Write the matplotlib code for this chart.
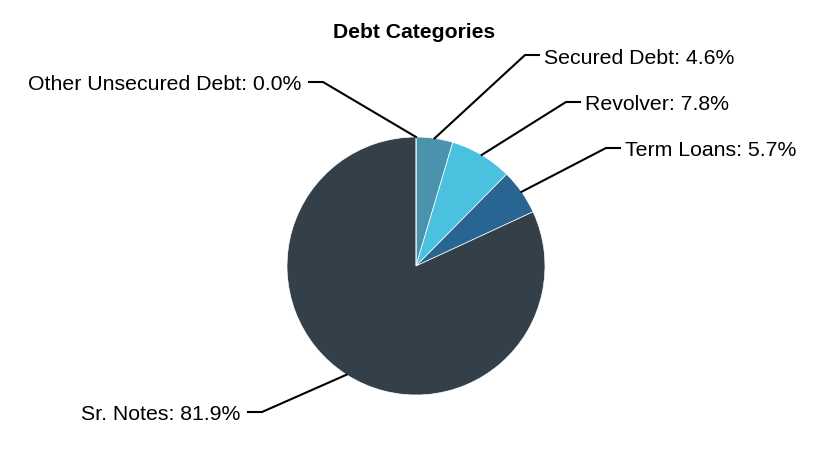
import matplotlib.pyplot as plt
import numpy as np

plt.rcParams['font.family'] = ['Liberation Sans', 'DejaVu Sans']

# data, clockwise from the top
labels = ['Secured Debt', 'Revolver', 'Term Loans', 'Sr. Notes', 'Other Unsecured Debt']
shares = [4.6, 7.8, 5.7, 81.9, 0.0]
colors = ['#4b93ad', '#4bc1e0', '#296593', '#333f49', '#8a8a8a']

# label elbow points (pixels, y down) and side of the pie
elbows = [(525, 55), (566, 102), (606, 148), (262, 412), (323, 82)]
sides = ['right', 'right', 'right', 'left', 'left']

W, H = 832, 450
cx, cy, rad = 416, 266, 129

fig = plt.figure(figsize=(W / 100, H / 100), dpi=100)
ax = fig.add_axes([0, 0, 1, 1])

wedges, _ = ax.pie(shares, colors=colors, startangle=90, counterclock=False,
                   center=(cx, H - cy), radius=rad,
                   wedgeprops=dict(edgecolor='white', linewidth=0.5))
ax.set_xlim(0, W)
ax.set_ylim(0, H)
ax.set_aspect('auto')
ax.axis('off')

#-----labels with connectors-----#
for w, lab, val, (ex, ey), side in zip(wedges, labels, shares, elbows, sides):
    ang = np.deg2rad((w.theta1 + w.theta2) / 2)
    px = cx + rad * np.cos(ang)
    py = (H - cy) + rad * np.sin(ang)
    ey = H - ey
    hx = ex + 14 if side == 'right' else ex - 14
    ax.plot([px, ex, hx], [py, ey, ey], color='black', lw=1.5,
            solid_joinstyle='miter', clip_on=False)
    tx = hx + 5 if side == 'right' else hx - 8
    ax.text(tx, ey - 3, f'{lab}: {val:.1f}%', fontsize=15.3,
            ha='left' if side == 'right' else 'right', va='center')

ax.text(414, H - 32, 'Debt Categories', fontsize=15.2, fontweight='bold',
        ha='center', va='center')

fig.savefig('out.png', dpi=100)
